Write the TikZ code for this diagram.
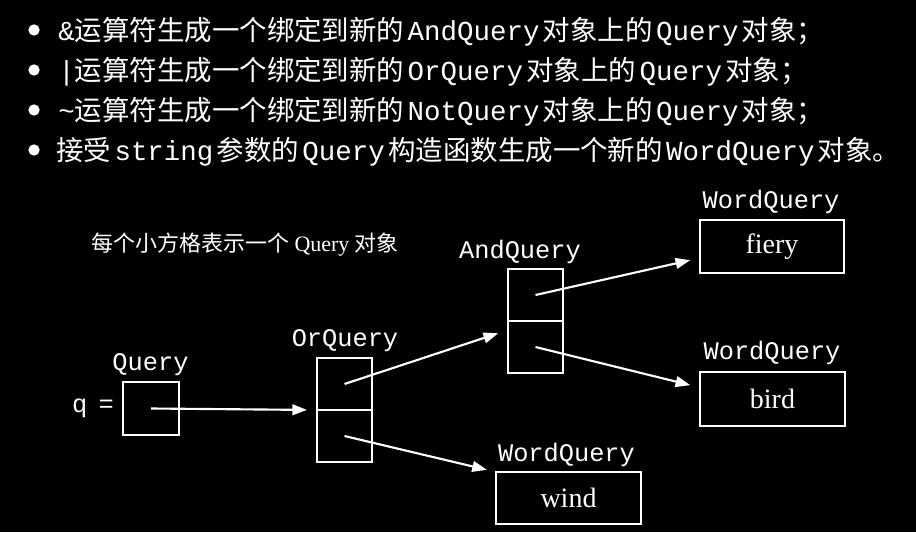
\documentclass[tikz,border=0pt]{standalone}
\usepackage{fontspec}
\usetikzlibrary{arrows.meta}
\newfontfamily\cjk{Noto Sans CJK SC}
\newfontfamily\mono{Liberation Mono}
\newfontfamily\serif{Liberation Serif}
\newcommand{\mw}[1]{\hspace{2.5pt}{\mono #1}\hspace{2.5pt}}
\begin{document}
\begin{tikzpicture}[x=0.75pt,y=-0.75pt,
  cell/.style={draw=white,line width=2.2pt,inner sep=0pt,outer sep=0pt},
  qlabel/.style={text=white,font=\mono\fontsize{19pt}{22pt}\selectfont,inner sep=0pt},
  wordtxt/.style={text=white,font=\serif\fontsize{21pt}{24pt}\selectfont},
  arr/.style={draw=white,line width=1.6pt,-{Triangle[length=11pt,width=8pt]}},
  titleline/.style={text=white,anchor=base west,inner sep=0pt,font=\cjk\fontsize{20.6pt}{24pt}\selectfont},
  bullet/.style={fill=white,circle,inner sep=0pt,minimum size=8.5pt}]
\fill[black] (0,0) rectangle (916,532);
\useasboundingbox (0,0) rectangle (916,532);
% bullets and title lines
\node[bullet] (b1) at (34,30) {};
\node[bullet] (b2) at (34,70) {};
\node[bullet] (b3) at (34,110) {};
\node[bullet] (b4) at (34,150) {};
\node[titleline] (t1) at (58,40) {{\mono\&}运算符生成一个绑定到新的\mw{AndQuery}对象上的\mw{Query}对象；};
\node[titleline] (t2) at (58,80) {{\mono|}运算符生成一个绑定到新的\mw{OrQuery}对象上的\mw{Query}对象；};
\node[titleline] (t3) at (58,120) {{\mono\char`\~}运算符生成一个绑定到新的\mw{NotQuery}对象上的\mw{Query}对象；};
\node[titleline] (t4) at (56,160) {接受\mw{string}参数的\mw{Query}构造函数生成一个新的\mw{WordQuery}对象。};
% legend
\node[text=white,font=\cjk\fontsize{16.5pt}{20pt}\selectfont,inner sep=0pt] (legend) at (245,245) {每个小方格表示一个 {\serif Query} 对象};
% boxes
\node[cell,minimum width=42pt,minimum height=39.75pt] (qbox) at (151,408.5) {};
\node[cell,minimum width=41.25pt,minimum height=39pt] (or1) at (344.5,384) {};
\node[cell,minimum width=41.25pt,minimum height=39pt] (or2) at (344.5,436) {};
\node[cell,minimum width=41.25pt,minimum height=39pt] (and1) at (535.5,295) {};
\node[cell,minimum width=41.25pt,minimum height=39pt] (and2) at (535.5,347) {};
\node[cell,minimum width=108pt,minimum height=39.75pt,wordtxt] (fiery) at (772,246.5) {fiery};
\node[cell,minimum width=108.75pt,minimum height=40.5pt,wordtxt] (bird) at (772.5,399) {bird};
\node[cell,minimum width=108.75pt,minimum height=39pt,wordtxt] (wind) at (568.5,498) {wind};
% labels
\node[qlabel] (lq) at (150.5,365) {Query};
\node[qlabel] (lor) at (345,341) {OrQuery};
\node[qlabel] (land) at (520,252) {AndQuery};
\node[qlabel] (lw1) at (771,202) {WordQuery};
\node[qlabel] (lw2) at (772,353) {WordQuery};
\node[qlabel] (lw3) at (566.5,455) {WordQuery};
\node[qlabel] (qeq) at (93,408) {q\hspace{-3pt} =};
% arrows
\draw[arr,shorten >=7.5pt] (qbox.center) -- (or1.south west);
\draw[arr,shorten >=7.8pt] (or1.center) -- ([yshift=-6.75pt]and2.north west);
\draw[arr,shorten >=7pt] (or2.center) -- (wind.north west);
\draw[arr,shorten >=7.5pt] (and1.center) -- ([yshift=-8.6pt]fiery.west);
\draw[arr,shorten >=7.5pt] (and2.center) -- ([yshift=8.6pt]bird.west);
\end{tikzpicture}
\end{document}
